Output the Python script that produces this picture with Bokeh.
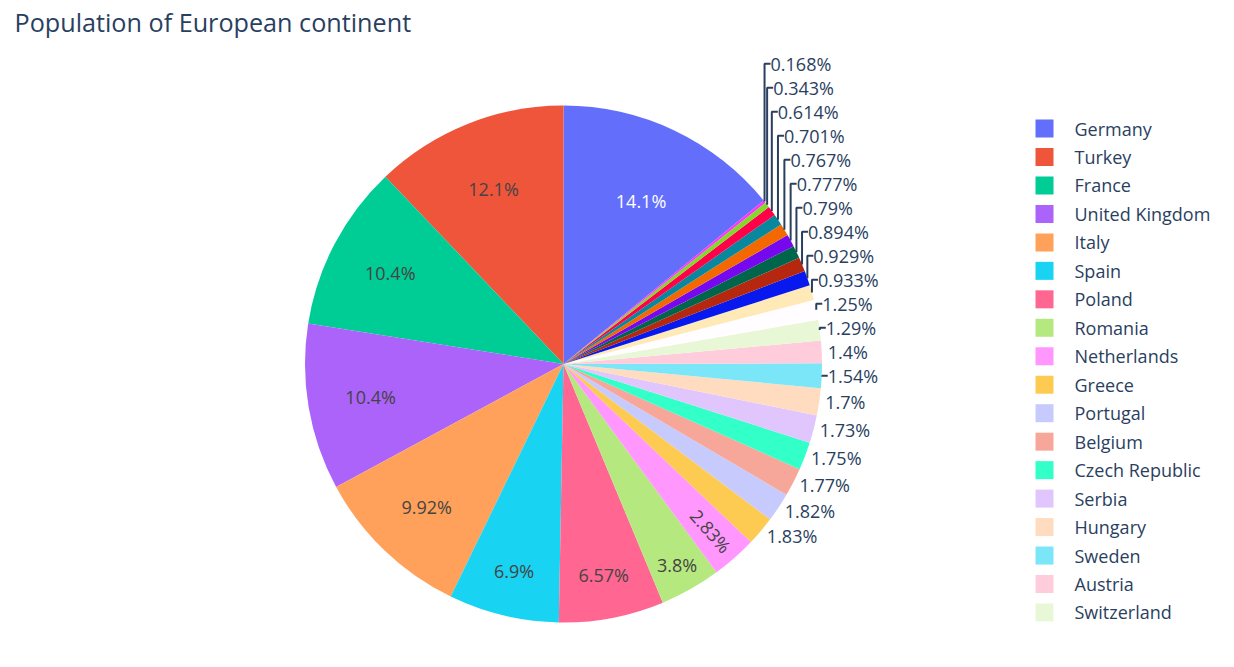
import math
import colorsys
from bokeh.plotting import figure
from bokeh.models import ColumnDataSource, Range1d, Label
from bokeh.core.properties import value
from bokeh.embed import file_html
from bokeh.resources import INLINE

# ---------------- data ----------------
TITLE = "Population of European continent"
countries = [
    "Germany", "Turkey", "France", "United Kingdom", "Italy", "Spain", "Poland",
    "Romania", "Netherlands", "Greece", "Portugal", "Belgium", "Czech Republic",
    "Serbia", "Hungary", "Sweden", "Austria", "Switzerland",
    "Bulgaria", "Denmark", "Finland", "Slovakia", "Norway", "Ireland", "Croatia",
    "Bosnia and Herzegovina", "Albania", "Slovenia", "Estonia",
]
share_pct = [
    14.1, 12.1, 10.4, 10.4, 9.92, 6.9, 6.57, 3.8, 2.83, 1.83, 1.82, 1.77, 1.75,
    1.73, 1.7, 1.54, 1.4, 1.29, 1.25, 0.933, 0.929, 0.894, 0.79, 0.777, 0.767,
    0.701, 0.614, 0.343, 0.168,
]
legend_shown = 18  # entries visible in the legend box

# ---------------- style ----------------
base_colors = ["#636efa", "#EF553B", "#00cc96", "#ab63fa", "#FFA15A",
               "#19d3f3", "#FF6692", "#B6E880", "#FF97FF", "#FECB52"]
FONT = "Open Sans"
FONT_COLOR = "#2a3f5f"
FS = 18.0
TH = 24.0           # text box height
W, H = 1218, 651
OFF = 0
PAGE_H = 667
CX, CY, R = 563.0, 363.5, 258.5   # screen coords of pie centre
TEXTPAD = 3


def shift_l(hx, dl):
    r, g, b = (int(hx[i:i + 2], 16) / 255 for i in (1, 3, 5))
    h, l, s = colorsys.rgb_to_hls(r, g, b)
    l = max(0.0, min(1.0, l + dl))
    r, g, b = colorsys.hls_to_rgb(h, l, s)
    return "#%02x%02x%02x" % (round(r * 255), round(g * 255), round(b * 255))


palette = base_colors + [shift_l(c, 0.2) for c in base_colors] + [shift_l(c, -0.2) for c in base_colors]
colors = [palette[i % len(palette)] for i in range(len(share_pct))]


def is_dark(hx):
    r, g, b = (int(hx[i:i + 2], 16) for i in (1, 3, 5))
    return (r * 299 + g * 587 + b * 114) / 1000 < 128


CW = {".": 0.266, "%": 0.834}


def text_w(t):
    return sum(CW.get(ch, 0.572) for ch in t) * FS


def sy(Y):  # screen y -> data y
    return PAGE_H - Y


def calc_max_half(a, half, r):
    q = a + 1 / (2 * math.tan(half))
    return r * min(1 / (math.sqrt(q * q + 0.5) + q), 1 / (math.sqrt(a * a + 0.5) + a))


def calc_rotate(t):
    return (math.degrees(t) + 720) % 180 - 90


total = sum(share_pct)
cur = 2 * math.pi * share_pct[0] / total
slices = []
for i, v in enumerate(share_pct):
    start = cur
    stop = cur - 2 * math.pi * v / total
    cur = stop
    mid = (start + stop) / 2
    half = math.pi * v / total
    txt = f"{100 * v / total:.3g}%"
    w = text_w(txt)
    pxmid = (R * math.sin(mid), -R * math.cos(mid))
    rins = min(1 / (1 + 1 / math.sin(half)), 0.5)
    cands = [dict(scale=rins * R * 2 / math.hypot(w, TH), rc=1 - rins, rot=0.0)]
    if cands[0]["scale"] < 1:
        rr = max(0, R - 2 * TEXTPAD)
        a = w / TH
        s = calc_max_half(a, half, rr)
        cands.append(dict(scale=s * 2 / TH, rc=math.cos(s / rr) - a * s / rr, rot=calc_rotate(mid)))
        a = TH / w
        s = calc_max_half(a, half, rr)
        cands.append(dict(scale=s * 2 / w, rc=math.cos(s / rr) - a * s / rr, rot=calc_rotate(mid + math.pi / 2)))
    best = cands[0]
    for c in cands:
        if c["scale"] > best["scale"]:
            best = c
    d = dict(i=i, txt=txt, w=w, start=start, stop=stop, mid=mid, pxmid=pxmid,
             bstart=math.pi / 2 - start, bend=math.pi / 2 - stop)
    if best["scale"] >= 1:
        d["outside"] = False
        d["tx"] = CX + pxmid[0] * best["rc"]
        d["ty"] = CY + pxmid[1] * best["rc"]
        d["rot"] = best["rot"]
    else:
        d["outside"] = True
        x, y = pxmid
        dy = TH / 2 * (-1 if y < 0 else 1)
        d["side"] = 1 if x >= 0 else -1
        d["tx"] = CX + x + d["side"] * TH / 4
        yc = CY + y + dy / (1 + x * x / (y * y))
        d["ymin"], d["ymid"], d["ymax"] = yc - TH / 2, yc, yc + TH / 2
        d["extra"] = 0.0
    slices.append(d)

# ---- avoid overlap of outside labels (vertical push, per quadrant) ----
quads = [[[], []], [[], []]]
for d in slices:
    quads[0 if d["pxmid"][1] < 0 else 1][0 if d["pxmid"][0] < 0 else 1].append(d)
for yh in (0, 1):
    for xh in (0, 1):
        q = sorted(quads[yh][xh], key=(lambda d: d["pxmid"][1]) if yh else (lambda d: -d["pxmid"][1]))
        quads[yh][xh] = q
        opp = quads[1 - yh][xh]
        outs = [d for d in q if d["outside"]]
        first_opp = None
        if yh:
            for d in opp:
                if d["outside"]:
                    first_opp = d
                    break
        for k, d in enumerate(outs):
            prev = outs[k - 1] if k else None
            if first_opp is not None and k == 0:
                prev = first_opp
            if prev is None:
                continue
            prev_outer = prev["extra"] + (prev["ymax"] if yh else prev["ymin"])
            this_inner = d["ymin"] if yh else d["ymax"]
            ne = prev_outer - this_inner
            if ne * (1 if yh else -1) > 0:
                d["extra"] = ne

# ---------------- figure ----------------
p = figure(width=W, height=H, x_range=Range1d(OFF, OFF + W), y_range=Range1d(PAGE_H - OFF - H, PAGE_H - OFF),
           output_backend="svg", toolbar_location=None, min_border=0,
           x_axis_location=None, y_axis_location=None, outline_line_color=None,
           background_fill_color="white", border_fill_color="white")
p.grid.grid_line_color = None

wsrc = ColumnDataSource(dict(
    country=countries, share=share_pct, color=colors,
    start=[d["bstart"] for d in slices], end=[d["bend"] for d in slices],
))
p.wedge(x=CX, y=sy(CY), radius=R, start_angle="start", end_angle="end",
        fill_color="color", line_color=None, source=wsrc)

# inside labels
ins = [d for d in slices if not d["outside"]]
p.text(x="x", y="y", text="text", angle="angle", text_color="color",
       source=ColumnDataSource(dict(
           x=[d["tx"] for d in ins], y=[sy(d["ty"]) for d in ins],
           text=[d["txt"] for d in ins], angle=[-math.radians(d["rot"]) for d in ins],
           color=["white" if is_dark(colors[d["i"]]) else "#444444" for d in ins])),
       text_font=value(FONT), text_font_size=value("18px"),
       text_align="center", text_baseline="middle")

# outside labels + leader lines
outs = [d for d in slices if d["outside"]]
for side, align in ((1, "left"), (-1, "right")):
    sel = [d for d in outs if d["side"] == side]
    if not sel:
        continue
    p.text(x=[d["tx"] for d in sel], y=[sy(d["ymid"] + d["extra"]) for d in sel],
           text=[d["txt"] for d in sel], text_color=FONT_COLOR,
           text_font=value(FONT), text_font_size=value("18px"),
           text_align=align, text_baseline="middle")
lxs, lys = [], []
for d in outs:
    if d["extra"] == 0:
        continue
    x0 = CX + d["pxmid"][0]
    y0 = CY + d["pxmid"][1]
    yl = d["ymid"] + d["extra"]
    fx = TH / 4 * d["side"]
    lxs.append([x0, x0, x0 + fx])
    lys.append([sy(y0), sy(yl), sy(yl)])
if lxs:
    p.multi_line(xs=lxs, ys=lys, line_color=FONT_COLOR, line_width=2)

# legend (visible part)
LX, LY0, LSTEP = 1044.0, 128.0, 28.47
p.scatter(x=[LX] * legend_shown, y=[sy(LY0 + k * LSTEP) for k in range(legend_shown)],
          marker="square", size=18, fill_color=colors[:legend_shown], line_color=None)
p.text(x=[LX + 30] * legend_shown, y=[sy(LY0 + k * LSTEP) for k in range(legend_shown)],
       text=countries[:legend_shown], text_color=FONT_COLOR,
       text_font=value(FONT), text_font_size=value("18px"),
       text_align="left", text_baseline="middle")

p.add_layout(Label(x=14, y=sy(21), text=TITLE, text_font=FONT, text_font_size="25.2px",
                   text_color=FONT_COLOR, text_baseline="middle", text_align="left"))

open("out.html", "w").write(file_html(p, INLINE))
